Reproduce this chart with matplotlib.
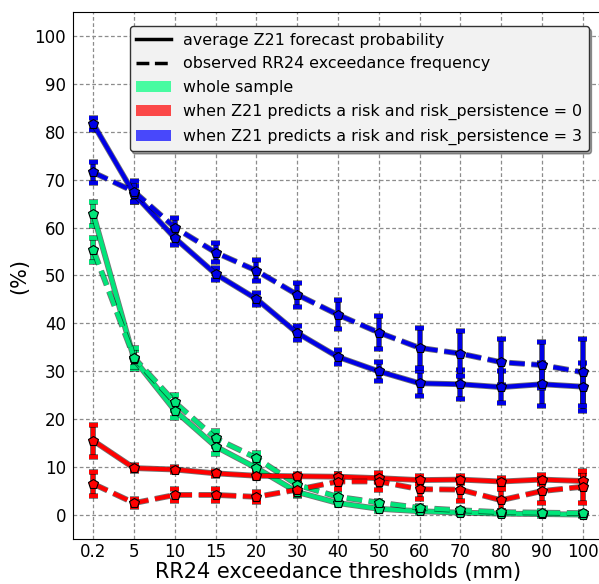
import matplotlib
matplotlib.use("Agg")
import matplotlib.pyplot as plt
import matplotlib.patheffects as pe
from matplotlib.lines import Line2D
from matplotlib.patches import Patch
import numpy as np

thresholds = ["0.2", "5", "10", "15", "20", "30", "40", "50", "60", "70", "80", "90", "100"]

whole_fc = [62.8, 32.5, 21.8, 14.3, 9.8, 4.8, 2.5, 1.3, 0.8, 0.5, 0.3, 0.2, 0.1]
whole_fc_err = [2.5, 2.0, 1.5, 1.5, 1.0, 0.8, 0.5, 0.4, 0.3, 0.3, 0.3, 0.3, 0.3]
whole_obs = [55.3, 32.8, 23.5, 16.0, 11.9, 6.3, 3.8, 2.6, 1.5, 1.0, 0.6, 0.5, 0.4]
whole_obs_err = [2.5, 2.0, 1.5, 1.5, 1.0, 0.8, 0.5, 0.4, 0.3, 0.3, 0.3, 0.3, 0.3]

p0_fc = [15.5, 9.8, 9.5, 8.7, 8.2, 8.1, 8.0, 7.7, 7.3, 7.4, 7.0, 7.4, 7.1]
p0_fc_err = [3.3, 0.6, 0.6, 0.5, 0.5, 0.5, 0.6, 0.7, 0.8, 0.8, 0.8, 1.0, 1.5]
p0_obs = [6.5, 2.5, 4.2, 4.2, 3.8, 5.3, 7.0, 7.0, 5.4, 5.3, 3.1, 5.0, 5.9]
p0_obs_err = [2.5, 0.9, 1.3, 1.3, 1.0, 1.2, 1.5, 1.8, 2.0, 2.3, 2.3, 2.5, 3.3]

p3_fc = [81.6, 67.0, 57.8, 50.3, 45.1, 38.0, 33.0, 30.0, 27.5, 27.3, 26.7, 27.3, 26.8]
p3_fc_err = [1.3, 1.6, 1.5, 1.3, 1.2, 1.5, 1.5, 2.0, 2.6, 3.0, 3.4, 4.5, 5.0]
p3_obs = [71.5, 67.5, 60.0, 54.8, 51.0, 46.0, 41.8, 38.1, 34.9, 33.7, 31.9, 31.3, 29.8]
p3_obs_err = [2.2, 2.2, 2.0, 2.0, 2.2, 2.5, 3.0, 3.5, 4.2, 4.7, 4.8, 4.8, 7.0]

fig = plt.figure(figsize=(5.99, 5.84), dpi=100)
ax = fig.add_axes([73/599, 1-539/584, 530/599, (539-12)/584])

x = np.arange(len(thresholds))
lw = 3.0
line_outline = [pe.Stroke(linewidth=lw + 1.2, foreground="black", alpha=0.55), pe.Normal()]
bar_outline = [pe.Stroke(linewidth=3.0 + 1.2, foreground="black", alpha=0.6), pe.Normal()]


def draw(y, err, color, ls):
    _, caps, bars = ax.errorbar(x, y, yerr=err, fmt="none", ecolor=color,
                                elinewidth=3.0, capsize=3.2, capthick=2.8, zorder=3)
    for b in bars:
        b.set_path_effects(bar_outline)
    for c in caps:
        c.set_path_effects([pe.Stroke(linewidth=4, foreground="black", alpha=0.6), pe.Normal()])
    ax.plot(x, y, color=color, ls=ls, lw=lw, zorder=3.5, path_effects=line_outline)
    ax.plot(x, y, ls="none", marker="p", ms=7, mfc=color, mec="black", mew=0.8,
            zorder=4)


green = "#00e67a"
draw(whole_fc, whole_fc_err, green, "-")
draw(whole_obs, whole_obs_err, green, "--")
draw(p0_fc, p0_fc_err, "red", "-")
draw(p0_obs, p0_obs_err, "red", "--")
draw(p3_fc, p3_fc_err, "#0000e6", "-")
draw(p3_obs, p3_obs_err, "#0000e6", "--")

ax.set_xlim(-0.5, 12.5)
ax.set_ylim(-5, 105)
ax.set_xticks(x)
ax.set_xticklabels(thresholds)
ax.set_yticks(np.arange(0, 101, 10))
ax.tick_params(axis="both", labelsize=12, length=0, pad=3.0)
ax.tick_params(axis="y", pad=5)
ax.grid(True, ls=(0, (3, 2)), color="#8c8c8c", lw=0.9)
ax.set_axisbelow(True)
ax.set_xlabel("RR24 exceedance thresholds (mm)", fontsize=15, labelpad=0.5)
ax.set_ylabel("(%)", fontsize=15)

handles = [
    Line2D([], [], color="black", lw=2.5, ls="-"),
    Line2D([], [], color="black", lw=2.5, ls="--"),
    Patch(facecolor="springgreen", alpha=0.7),
    Patch(facecolor="red", alpha=0.7),
    Patch(facecolor="blue", alpha=0.7),
]
labels = [
    "average Z21 forecast probability",
    "observed RR24 exceedance frequency",
    "whole sample",
    "when Z21 predicts a risk and risk_persistence = 0",
    "when Z21 predicts a risk and risk_persistence = 3",
]
leg = ax.legend(handles, labels, loc="upper right", bbox_to_anchor=(0.988, 0.988),
                fontsize=11.4, shadow={"color": "black", "alpha": 0.35}, fancybox=True,
                framealpha=1, facecolor="#f2f2f2", edgecolor="#333333",
                handlelength=2.2, labelspacing=0.55)

fig.savefig("out.png", dpi=100)
